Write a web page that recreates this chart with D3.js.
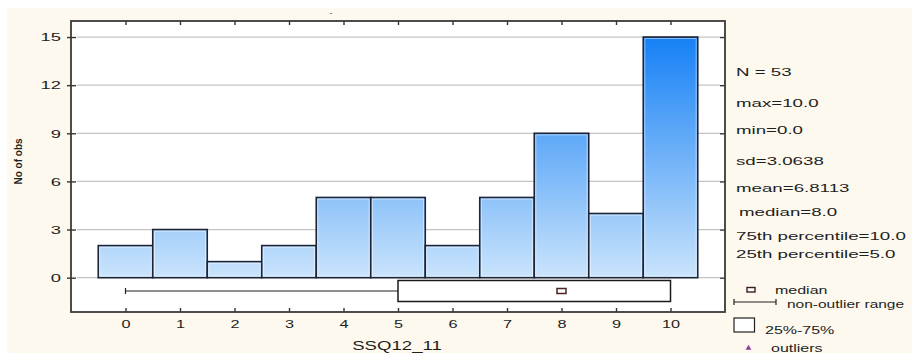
<!DOCTYPE html>
<html>
<head>
<meta charset="utf-8">
<script src="https://cdn.jsdelivr.net/npm/d3@7/dist/d3.min.js"></script>
<style>
  html, body { margin: 0; padding: 0; background: #ffffff; }
  svg { display: block; }
  text { font-family: "Liberation Sans", Arial, sans-serif; fill: #1e1e1e; }
</style>
</head>
<body>
<svg id="chart" width="912" height="353"></svg>
<script>
// Histogram of SSQ12_11 with a box plot summary underneath
const categories = [0, 1, 2, 3, 4, 5, 6, 7, 8, 9, 10];
const counts = [2, 3, 1, 2, 5, 5, 2, 5, 9, 4, 15];
const yTicks = [0, 3, 6, 9, 12, 15];
const boxStats = { min: 0, q1: 5, median: 8, q3: 10, max: 10 };
const statLines = [
  "N = 53",
  "max=10.0",
  "min=0.0",
  "sd=3.0638",
  "mean=6.8113",
  "median=8.0",
  "75th percentile=10.0",
  "25th percentile=5.0"
];
const legendLabels = ["median", "non-outlier range", "25%-75%", "outliers"];
const xTitle = "SSQ12_11";
const yTitle = "No of obs";

const svg = d3.select("#chart");
const W = 912, H = 353;
const plot = { left: 71, top: 21, right: 725, bottom: 312 };

// page background
svg.append("rect").attr("x", 0).attr("y", 0).attr("width", W).attr("height", H).attr("fill", "#ffffff");
svg.append("rect").attr("x", 7).attr("y", 8).attr("width", W - 7).attr("height", H - 8).attr("fill", "#fdf9ee");

const x = d3.scaleLinear().domain([-1, 11]).range([plot.left, plot.right]);
const y = d3.scaleLinear().domain([-2.14, 16]).range([plot.bottom, plot.top]);

// plot area
svg.append("rect")
  .attr("x", plot.left).attr("y", plot.top)
  .attr("width", plot.right - plot.left).attr("height", plot.bottom - plot.top)
  .attr("fill", "#ffffff");

// gradient shared by all bars, spanning the value range
const defs = svg.append("defs");
const grad = defs.append("linearGradient")
  .attr("id", "barFill").attr("gradientUnits", "userSpaceOnUse")
  .attr("x1", 0).attr("x2", 0).attr("y1", y(15)).attr("y2", y(0));
grad.append("stop").attr("offset", 0).attr("stop-color", "#1580f5");
grad.append("stop").attr("offset", 1).attr("stop-color", "#cae4fc");

// horizontal grid lines
svg.append("g").selectAll("line").data(yTicks).join("line")
  .attr("x1", plot.left + 6).attr("x2", plot.right - 5)
  .attr("y1", d => y(d)).attr("y2", d => y(d))
  .attr("stroke", "#c4c4c4").attr("stroke-width", 1.2);

// histogram bars
const bars = svg.append("g");
bars.selectAll("rect.bar").data(categories).join("rect")
  .attr("class", "bar")
  .attr("x", d => x(d - 0.5))
  .attr("y", (d, i) => y(counts[i]))
  .attr("width", d => x(d + 0.5) - x(d - 0.5))
  .attr("height", (d, i) => y(0) - y(counts[i]))
  .attr("fill", "url(#barFill)")
  .attr("stroke", "#1c2438").attr("stroke-width", 1.6);
bars.selectAll("rect.hl").data(categories).join("rect")
  .attr("class", "hl")
  .attr("x", d => x(d - 0.5) + 1.6)
  .attr("y", (d, i) => y(counts[i]) + 1.6)
  .attr("width", d => x(d + 0.5) - x(d - 0.5) - 3.2)
  .attr("height", (d, i) => Math.max(0, y(0) - y(counts[i]) - 3.2))
  .attr("fill", "none")
  .attr("stroke", "#ffffff").attr("stroke-opacity", 0.6).attr("stroke-width", 0.8);

// box plot below the bars
const boxTop = 280.5, boxBottom = 301.5, boxMid = (boxTop + boxBottom) / 2;
const bp = svg.append("g");
bp.append("line")
  .attr("x1", x(boxStats.min)).attr("x2", x(boxStats.q1))
  .attr("y1", boxMid).attr("y2", boxMid)
  .attr("stroke", "#222").attr("stroke-width", 1.2);
bp.append("line")
  .attr("x1", x(boxStats.min)).attr("x2", x(boxStats.min))
  .attr("y1", boxMid - 3).attr("y2", boxMid + 3)
  .attr("stroke", "#222").attr("stroke-width", 1.2);
bp.append("line")
  .attr("x1", x(boxStats.q3)).attr("x2", x(boxStats.max))
  .attr("y1", boxMid).attr("y2", boxMid)
  .attr("stroke", "#222").attr("stroke-width", 1.2);
bp.append("rect")
  .attr("x", x(boxStats.q1)).attr("y", boxTop)
  .attr("width", x(boxStats.q3) - x(boxStats.q1)).attr("height", boxBottom - boxTop)
  .attr("fill", "#ffffff").attr("stroke", "#1a1a1a").attr("stroke-width", 1.5);
bp.append("rect")
  .attr("x", x(boxStats.median) - 4.5).attr("y", boxMid - 2.5)
  .attr("width", 9).attr("height", 5)
  .attr("fill", "#ffffff").attr("stroke", "#4a2424").attr("stroke-width", 1.5);

// axes: ticks cross the frame on all four sides
const axisColor = "#333";
const gL = svg.append("g").attr("transform", `translate(${plot.left},0)`)
  .call(d3.axisLeft(y).tickValues(yTicks).tickSize(4).tickPadding(5));
const gR = svg.append("g").attr("transform", `translate(${plot.right},0)`)
  .call(d3.axisLeft(y).tickValues(yTicks).tickSize(5).tickFormat(""));
const gB = svg.append("g").attr("transform", `translate(0,${plot.bottom})`)
  .call(d3.axisTop(x).tickValues(categories).tickSize(4).tickFormat(""));
const gT = svg.append("g").attr("transform", `translate(0,${plot.top})`)
  .call(d3.axisBottom(x).tickValues(categories).tickSize(4).tickFormat(""));
const gBL = svg.append("g").attr("transform", `translate(0,${plot.bottom})`)
  .call(d3.axisBottom(x).tickValues(categories).tickSize(0).tickPadding(12));
const gLI = svg.append("g").attr("transform", `translate(${plot.left},0)`)
  .call(d3.axisRight(y).tickValues(yTicks).tickSize(5).tickFormat(""));

[gL, gR, gB, gT, gBL, gLI].forEach(g => {
  g.select(".domain").remove();
  g.selectAll(".tick line").attr("stroke", axisColor).attr("stroke-width", 1.4);
});

// tick labels, drawn wide
gL.selectAll(".tick text")
  .attr("x", 0).attr("dy", "0.36em")
  .attr("transform", "translate(-10,0) scale(1.75,1)")
  .attr("font-size", 10.5).attr("fill", "#2a2a2a");
gBL.selectAll(".tick text")
  .attr("y", 0).attr("dy", 0)
  .attr("transform", "translate(0,15.5) scale(1.55,1)")
  .attr("font-size", 10.5).attr("fill", "#2a2a2a");

// plot frame
svg.append("rect")
  .attr("x", plot.left).attr("y", plot.top)
  .attr("width", plot.right - plot.left).attr("height", plot.bottom - plot.top)
  .attr("fill", "none").attr("stroke", "#3a3a3a").attr("stroke-width", 1.8);

// axis titles
svg.append("text")
  .attr("transform", `translate(397,350) scale(1.55,1)`)
  .attr("text-anchor", "middle")
  .attr("font-size", 12).attr("fill", "#2a2a2a")
  .text(xTitle);
svg.append("text")
  .attr("transform", `translate(21.5,161.5) rotate(-90)`)
  .attr("text-anchor", "middle")
  .attr("font-size", 10).attr("font-weight", 600).attr("fill", "#222")
  .text(yTitle);

// empty title mark
svg.append("text")
  .attr("x", 331).attr("y", 15)
  .attr("text-anchor", "middle")
  .attr("font-size", 8).attr("fill", "#888")
  .text("-");

// summary statistics
const statY = [72.5, 103.5, 130.5, 161.5, 188, 212, 236, 254];
const statX = [736, 736, 736, 736, 736, 739, 736, 736];
svg.append("g").selectAll("text").data(statLines).join("text")
  .attr("transform", (d, i) => `translate(${statX[i]},${statY[i]}) scale(1.7,1)`)
  .attr("dy", "0.36em")
  .attr("font-size", 11).attr("fill", "#262626")
  .text(d => d);

// legend
const lg = svg.append("g");
lg.append("rect").attr("x", 747).attr("y", 287.5).attr("width", 8).attr("height", 4.5)
  .attr("fill", "#fff").attr("stroke", "#3a1e1e").attr("stroke-width", 1.4);
lg.append("line").attr("x1", 734).attr("x2", 776).attr("y1", 302).attr("y2", 302)
  .attr("stroke", "#222").attr("stroke-width", 1.2);
lg.append("line").attr("x1", 734).attr("x2", 734).attr("y1", 299).attr("y2", 305)
  .attr("stroke", "#222").attr("stroke-width", 1.2);
lg.append("line").attr("x1", 776).attr("x2", 776).attr("y1", 299).attr("y2", 305)
  .attr("stroke", "#222").attr("stroke-width", 1.2);
lg.append("rect").attr("x", 734).attr("y", 318).attr("width", 20.5).attr("height", 14)
  .attr("fill", "#fff").attr("stroke", "#222").attr("stroke-width", 1.2);
lg.append("path")
  .attr("d", d3.symbol(d3.symbolTriangle, 14)())
  .attr("transform", "translate(748.5,348)")
  .attr("fill", "#8a3a9a");

const legX = [775, 787, 765, 771];
const legY = [290, 304, 330.5, 348];
const legSX = [1.6, 1.55, 1.6, 1.6];
lg.selectAll("text").data(legendLabels).join("text")
  .attr("transform", (d, i) => `translate(${legX[i]},${legY[i]}) scale(${legSX[i]},1)`)
  .attr("dy", "0.36em")
  .attr("font-size", 10).attr("fill", "#262626")
  .text(d => d);
</script>
</body>
</html>
